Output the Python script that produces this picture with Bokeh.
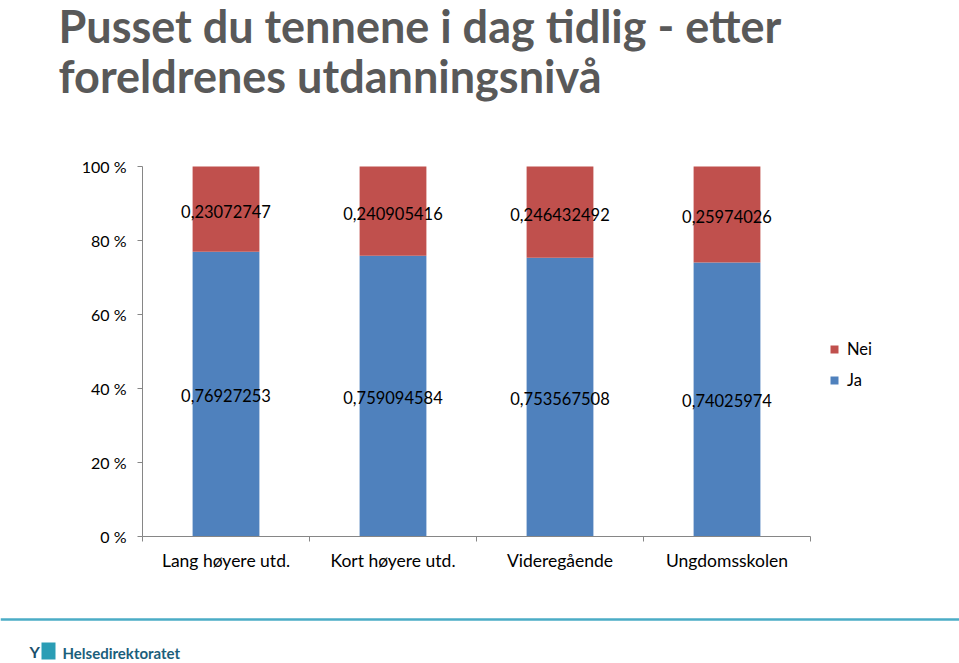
from bokeh.plotting import figure
from bokeh.models import (Range1d, FixedTicker, CustomJSTickFormatter, Legend, LegendItem,
                          ColumnDataSource, Label, Span, BoxAnnotation)
from bokeh.core.properties import value
from bokeh.embed import file_html
from bokeh.resources import INLINE

categories = ["Lang høyere utd.", "Kort høyere utd.", "Videregående", "Ungdomsskolen"]
ja = [0.76927253, 0.759094584, 0.753567508, 0.74025974]
nei = [0.23072747, 0.240905416, 0.246432492, 0.25974026]
y_ticks = [0, 0.2, 0.4, 0.6, 0.8, 1.0]
title_lines = ["Pusset du tennene i dag tidlig - etter", "foreldrenes utdanningsnivå"]

BLUE = "#4F81BD"
RED = "#C0504D"
AXIS = "#868686"
FONT = "Lato"

# canvas geometry (pixels): plot area from x=142..810, y=166..536 (top-left origin)
W, H = 959, 663
PL, PR, PT, PB = 142, 810, 166, 536
n = len(categories)
xpx = (PR - PL) / n          # pixels per category
ypx = (PB - PT)              # pixels per 100 %

p = figure(width=W, height=H, output_backend="svg", toolbar_location=None,
           x_range=Range1d(-PL / xpx, (W - PL) / xpx),
           y_range=Range1d(-(H - PB) / ypx, PB / ypx),
           min_border=0, min_border_left=0, min_border_right=0, min_border_top=0, min_border_bottom=0,
           title=None)
p.outline_line_color = None
p.xgrid.visible = False
p.ygrid.visible = False
p.background_fill_color = "white"
p.border_fill_color = "white"

xs = [i + 0.5 for i in range(n)]
src = ColumnDataSource(dict(x=xs, Ja=ja, Nei=nei, cat=categories,
                            ja_mid=[v / 2 for v in ja],
                            nei_mid=[a + b / 2 for a, b in zip(ja, nei)],
                            ja_lab=[str(v).replace(".", ",") for v in ja],
                            nei_lab=[str(v).replace(".", ",") for v in nei]))
rs = p.vbar_stack(["Ja", "Nei"], x="x", width=0.4, color=[BLUE, RED], line_color=None, source=src)

p.text(x="x", y="nei_mid", text="nei_lab", source=src, text_align="center", text_baseline="middle",
       text_font=value(FONT), text_font_size="16.5px", text_color="black", y_offset=2)
p.text(x="x", y="ja_mid", text="ja_lab", source=src, text_align="center", text_baseline="middle",
       text_font=value(FONT), text_font_size="16.5px", text_color="black", y_offset=1)

# y axis
ya = p.yaxis[0]
ya.fixed_location = 0
ya.bounds = (0, 1)
ya.ticker = FixedTicker(ticks=y_ticks)
ya.formatter = CustomJSTickFormatter(code="return Math.round(tick*100) + ' %';")
ya.axis_line_color = AXIS
ya.major_tick_line_color = AXIS
ya.major_tick_out = 5
ya.major_tick_in = 0
ya.minor_tick_line_color = None
ya.major_label_text_font = FONT
ya.major_label_text_font_size = "16px"
ya.major_label_text_color = "black"
ya.major_label_standoff = 11

# x axis
xa = p.xaxis[0]
xa.fixed_location = 0
xa.bounds = (0, n)
xa.ticker = FixedTicker(ticks=xs, minor_ticks=list(range(n + 1)))
xa.formatter = CustomJSTickFormatter(args=dict(cats=categories), code="return cats[Math.floor(tick)];")
xa.axis_line_color = AXIS
xa.major_tick_line_color = None
xa.major_tick_out = 0
xa.major_tick_in = 0
xa.minor_tick_line_color = AXIS
xa.minor_tick_out = 5
xa.minor_tick_in = 0
xa.major_label_text_font = FONT
xa.major_label_text_font_size = "17.5px"
xa.major_label_text_color = "black"
xa.major_label_standoff = 8

legend = Legend(items=[LegendItem(label="Nei", renderers=[rs[1]]),
                       LegendItem(label="Ja", renderers=[rs[0]])],
                location=(829, H - 390), orientation="vertical",
                glyph_width=10, glyph_height=10, label_height=20, spacing=11,
                label_standoff=8, padding=0, margin=0,
                border_line_color=None, background_fill_alpha=0,
                label_text_font=FONT, label_text_font_size="16.5px", label_text_color="black")
p.add_layout(legend, "center")

# title (screen units: from bottom-left, y up)
for i, t in enumerate(title_lines):
    p.add_layout(Label(x=58, y=H - (33 + i * 50) + 8, x_units="screen", y_units="screen", text=t,
                       text_font=FONT, text_font_style="bold", text_font_size="45px",
                       text_color="#595959", text_baseline="alphabetic"))

# footer line and logo
p.add_layout(Span(location=H - 619, location_units="screen", dimension="width",
                  line_color="#4BACC6", line_width=2.5))
p.add_layout(BoxAnnotation(left=41, right=55, bottom=H - 659, top=H - 642,
                           left_units="screen", right_units="screen",
                           bottom_units="screen", top_units="screen",
                           fill_color="#2A9DB5", fill_alpha=1, line_color=None))
p.add_layout(Label(x=29, y=H - 657 + 6, x_units="screen", y_units="screen", text="Y",
                   text_font=FONT, text_font_style="bold", text_font_size="16px",
                   text_color="#1B4F6B", text_baseline="alphabetic"))
p.add_layout(Label(x=62, y=H - 658 + 6, x_units="screen", y_units="screen", text="Helsedirektoratet",
                   text_font=FONT, text_font_style="bold", text_font_size="15px",
                   text_color="#1B5E7B", text_baseline="alphabetic"))

open("out.html", "w").write(file_html(p, INLINE))
